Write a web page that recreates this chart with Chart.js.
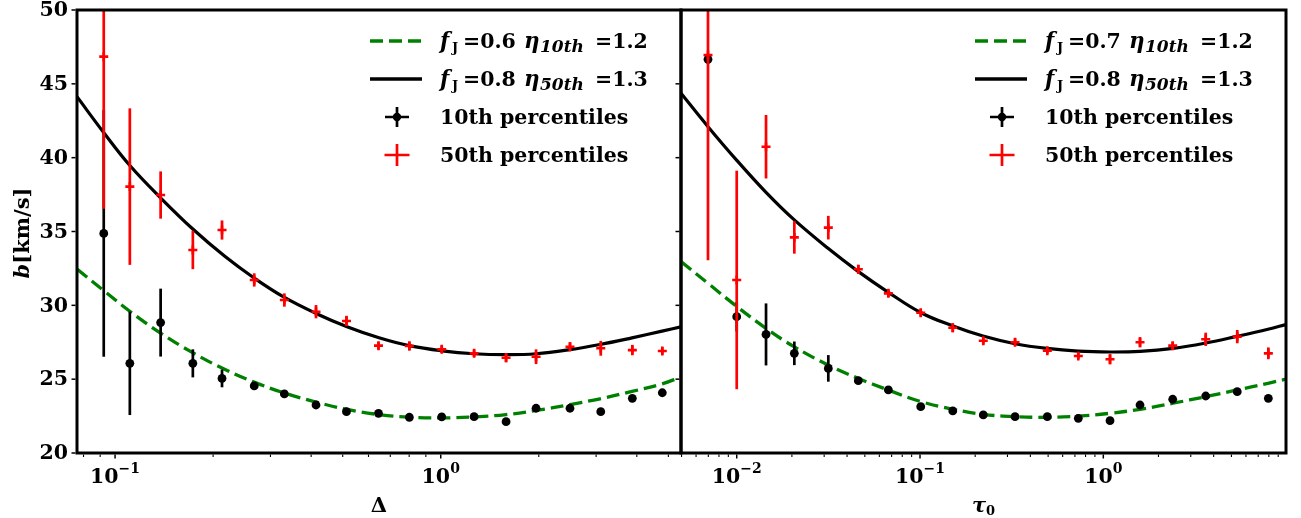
<!DOCTYPE html>
<html><head><meta charset="utf-8">
<script src="https://cdn.jsdelivr.net/npm/chart.js@4.4.1/dist/chart.umd.min.js"></script>
<style>
html,body{margin:0;padding:0;background:#fff;}
#wrap{position:relative;width:1301px;height:518px;overflow:hidden;background:#fff;}
#c1{position:absolute;left:0;top:0;}
#c2{position:absolute;left:660px;top:0;}
</style></head><body>
<div id="wrap"><canvas id="c1" width="690" height="518"></canvas><canvas id="c2" width="641" height="518"></canvas></div>
<script>
// ---------------- data: left panel (Delta) ----------------
const deltaBins   = [0.0923, 0.111, 0.138, 0.1733, 0.213, 0.2675, 0.331, 0.414, 0.5135, 0.644, 0.801, 1.007, 1.266, 1.587, 1.962, 2.494, 3.10, 3.875, 4.79];
const deltaB50    = [46.84, 38.04, 37.47, 33.75, 35.1, 31.72, 30.36, 29.57, 28.94, 27.27, 27.25, 27.02, 26.75, 26.45, 26.52, 27.2, 27.09, 26.97, 26.91];
const deltaB50Err = [10.3, 5.3, 1.6, 1.3, 0.65, 0.45, 0.45, 0.45, 0.35, 0.25, 0.3, 0.25, 0.25, 0.3, 0.5, 0.3, 0.5, 0.35, 0.25];
const deltaB10    = [34.87, 26.07, 28.83, 26.07, 25.05, 24.54, 24.0, 23.25, 22.8, 22.69, 22.42, 22.44, 22.46, 22.12, 23.03, 23.03, 22.8, 23.7, 24.08];
const deltaB10Err = [8.35, 3.5, 2.3, 0.95, 0.6, 0.15, 0.15, 0.15, 0.15, 0.1, 0.1, 0.1, 0.1, 0.1, 0.15, 0.1, 0.1, 0.15, 0.15];
const deltaFitX   = [0.0764, 0.0925, 0.1112, 0.1384, 0.1736, 0.2177, 0.2672, 0.3302, 0.4141, 0.5157, 0.6464, 0.7993, 1.009, 1.265, 1.587, 1.962, 2.495, 3.084, 3.867, 4.781, 5.467];
const deltaFit50  = [44.13, 41.67, 39.45, 37.25, 35.15, 33.3, 31.85, 30.55, 29.45, 28.55, 27.8, 27.27, 26.92, 26.72, 26.66, 26.72, 27.0, 27.35, 27.8, 28.25, 28.55];
const deltaFit10  = [32.46, 30.98, 29.58, 28.1, 26.78, 25.65, 24.8, 24.07, 23.45, 22.95, 22.6, 22.43, 22.38, 22.44, 22.6, 22.88, 23.28, 23.67, 24.17, 24.68, 25.15];

// ---------------- data: right panel (tau_0) ----------------
const tauBins   = [0.006971, 0.01, 0.01445, 0.02062, 0.0316, 0.04606, 0.0672, 0.1009, 0.1509, 0.2214, 0.33, 0.495, 0.7305, 1.088, 1.586, 2.391, 3.62, 5.38, 7.95];
const tauB50    = [46.95, 31.72, 40.74, 34.6, 35.26, 32.44, 30.81, 29.5, 28.48, 27.6, 27.5, 26.93, 26.57, 26.35, 27.5, 27.27, 27.7, 27.88, 26.75];
const tauB50Err = [13.9, 7.4, 2.15, 1.1, 0.8, 0.3, 0.25, 0.25, 0.3, 0.25, 0.25, 0.2, 0.2, 0.35, 0.35, 0.25, 0.45, 0.45, 0.4];
const tauB10    = [46.66, 29.23, 28.03, 26.75, 25.73, 24.9, 24.27, 23.14, 22.85, 22.58, 22.46, 22.46, 22.35, 22.19, 23.25, 23.64, 23.86, 24.15, 23.7];
const tauB10Err = [0.3, 1.0, 2.1, 0.8, 0.9, 0.15, 0.15, 0.2, 0.15, 0.1, 0.1, 0.1, 0.1, 0.1, 0.1, 0.1, 0.1, 0.1, 0.15];
const tauFitX   = [0.004966, 0.006971, 0.01004, 0.01445, 0.02054, 0.03148, 0.0459, 0.06689, 0.1013, 0.1514, 0.2207, 0.3299, 0.4931, 0.7278, 1.088, 1.586, 2.4, 3.634, 5.362, 7.914, 9.925];
const tauFit50  = [44.36, 42.1, 39.8, 37.65, 35.8, 33.86, 32.3, 30.9, 29.5, 28.6, 27.92, 27.4, 27.08, 26.9, 26.84, 26.88, 27.08, 27.45, 27.9, 28.38, 28.7];
const tauFit10  = [32.96, 31.49, 29.91, 28.44, 27.2, 25.96, 25.06, 24.27, 23.48, 22.96, 22.62, 22.46, 22.42, 22.5, 22.69, 22.96, 23.37, 23.82, 24.27, 24.72, 25.0];

// ---------------- axes / labels ----------------
const yTicks = [20, 25, 30, 35, 40, 45, 50];
const deltaDecades = [-1, 0];
const tauDecades = [-2, -1, 0];
const leftFJ10 = '0.6', leftEta10 = '1.2', leftFJ50 = '0.8', leftEta50 = '1.3';
const rightFJ10 = '0.7', rightEta10 = '1.2', rightFJ50 = '0.8', rightEta50 = '1.3';
const label10 = '10th percentiles', label50 = '50th percentiles';

const SERIF = '"DejaVu Serif", serif';
const F = (style, size) => style + ' ' + size + 'px ' + SERIF;

function pts(xs, ys) { return xs.map((x, i) => ({x: x, y: ys[i]})); }

function richWidth(ctx, pieces) {
  let w = 0;
  pieces.forEach(p => { ctx.font = p.font; w += ctx.measureText(p.t).width; });
  return w;
}
function drawRich(ctx, x, y, pieces) {
  pieces.forEach(p => {
    ctx.font = p.font;
    const px = (p.at !== undefined) ? p.at : x;
    ctx.fillText(p.t, px, y + (p.dy || 0));
    x = px + ctx.measureText(p.t).width;
  });
}
function minusSup(n) { return n < 0 ? '\u2212' + (-n) : String(n); }

function makePlugin(cfg) {
  return {
    id: 'panel' + cfg.key,
    beforeDatasetDraw(chart, args) {
      const ds = chart.data.datasets[args.index];
      if (!ds.errors) return;
      const ctx = chart.ctx, a = chart.chartArea, xs = chart.scales.x, ys = chart.scales.y;
      ctx.save();
      ctx.beginPath(); ctx.rect(a.left, a.top, a.right - a.left, a.bottom - a.top); ctx.clip();
      ctx.strokeStyle = ds.errColor; ctx.lineWidth = 2.7; ctx.lineCap = 'butt';
      ds.data.forEach((p, i) => {
        const e = ds.errors[i];
        const px = xs.getPixelForValue(p.x);
        ctx.beginPath();
        ctx.moveTo(px, ys.getPixelForValue(p.y - e));
        ctx.lineTo(px, ys.getPixelForValue(p.y + e));
        ctx.stroke();
      });
      ctx.restore();
    },
    afterDraw(chart) {
      const ctx = chart.ctx, a = chart.chartArea, xs = chart.scales.x, ys = chart.scales.y;
      ctx.save();
      ctx.fillStyle = '#000'; ctx.strokeStyle = '#000';
      // frame
      ctx.lineWidth = 3;
      ctx.strokeRect(a.left, a.top, a.right - a.left, a.bottom - a.top);
      // y ticks
      ctx.lineWidth = 1.5;
      yTicks.forEach(v => {
        const py = ys.getPixelForValue(v);
        ctx.beginPath(); ctx.moveTo(a.left - 5.5, py); ctx.lineTo(a.left - 1.5, py); ctx.stroke();
        if (cfg.yLabels) {
          ctx.font = F('bold', 20.5); ctx.textAlign = 'right'; ctx.textBaseline = 'middle';
          ctx.fillText(String(v), a.left - 9, py + 1);
        }
      });
      // x ticks (log)
      ctx.textAlign = 'left'; ctx.textBaseline = 'alphabetic';
      const lo = Math.floor(Math.log10(xs.min)), hi = Math.ceil(Math.log10(xs.max));
      for (let d = lo; d <= hi; d++) {
        for (let k = 1; k <= 9; k++) {
          const v = k * Math.pow(10, d);
          if (v < xs.min || v > xs.max) continue;
          const px = xs.getPixelForValue(v);
          const major = k === 1;
          ctx.lineWidth = major ? 1.5 : 1.1;
          ctx.beginPath(); ctx.moveTo(px, a.bottom + 1.5); ctx.lineTo(px, a.bottom + (major ? 5.5 : 4)); ctx.stroke();
        }
      }
      cfg.decades.forEach(d => {
        const px = xs.getPixelForValue(Math.pow(10, d));
        const pieces = [{t: '10', font: F('bold', 20.5)}, {t: minusSup(d), font: F('bold', 14), dy: -10}];
        const w = richWidth(ctx, pieces);
        drawRich(ctx, px - w / 2, 482.5, pieces);
      });
      // x title
      const cx = (a.left + a.right) / 2;
      const tp = cfg.xTitle;
      const tw = richWidth(ctx, tp);
      drawRich(ctx, cx - tw / 2, 511.5, tp);
      // y title
      if (cfg.yTitle) {
        ctx.save();
        ctx.translate(29, 233);
        ctx.rotate(-Math.PI / 2);
        const yp = [{t: 'b', font: F('italic bold', 21)}, {t: '[km/s]', font: F('bold', 21)}];
        const yw = richWidth(ctx, yp);
        drawRich(ctx, -yw / 2, 0, yp);
        ctx.restore();
      }
      // legend
      const lx0 = a.right - 311, lx1 = a.right - 259, tx = a.right - 241, mx = a.right - 284;
      const rows = [41, 79, 117, 155];
      ctx.save();
      ctx.strokeStyle = '#008000'; ctx.lineWidth = 3.3; ctx.setLineDash([13, 6]);
      ctx.beginPath(); ctx.moveTo(lx0, rows[0]); ctx.lineTo(lx1, rows[0]); ctx.stroke();
      ctx.restore();
      ctx.lineWidth = 3.3; ctx.strokeStyle = '#000';
      ctx.beginPath(); ctx.moveTo(lx0, rows[1]); ctx.lineTo(lx1, rows[1]); ctx.stroke();
      ctx.lineWidth = 2.7;
      ctx.beginPath(); ctx.moveTo(mx, rows[2] - 10); ctx.lineTo(mx, rows[2] + 10);
      ctx.moveTo(mx - 12, rows[2]); ctx.lineTo(mx + 12, rows[2]); ctx.stroke();
      ctx.beginPath(); ctx.arc(mx, rows[2], 4.2, 0, Math.PI * 2); ctx.fill();
      ctx.strokeStyle = '#ff0000';
      ctx.beginPath(); ctx.moveTo(mx, rows[3] - 11); ctx.lineTo(mx, rows[3] + 11);
      ctx.moveTo(mx - 12.5, rows[3]); ctx.lineTo(mx + 12.5, rows[3]); ctx.stroke();
      ctx.fillStyle = '#000';
      const big = F('bold', 20.5), bigI = F('italic bold', 21.5), sub = F('bold', 13), subI = F('italic bold', 17);
      const fitRow = (fj, name, eta) => [
        {t: 'f', font: bigI, at: tx}, {t: 'J', font: sub, dy: 4, at: tx + 12},
        {t: '=' + fj, font: big, at: tx + 23},
        {t: '\u03B7', font: bigI, at: tx + 84}, {t: name, font: subI, dy: 4, at: tx + 100},
        {t: '=' + eta, font: big, at: tx + 155}];
      drawRich(ctx, tx, rows[0] + 7, fitRow(cfg.fj10, '10th', cfg.eta10));
      drawRich(ctx, tx, rows[1] + 7, fitRow(cfg.fj50, '50th', cfg.eta50));
      drawRich(ctx, tx, rows[2] + 7, [{t: label10, font: big}]);
      drawRich(ctx, tx, rows[3] + 7, [{t: label50, font: big}]);
      ctx.restore();
    }
  };
}

function makeChart(canvasId, c) {
  return new Chart(document.getElementById(canvasId), {
    type: 'scatter',
    data: {
      datasets: [
        {data: pts(c.fitX, c.fit10), showLine: true, pointRadius: 0, borderColor: '#008000', borderWidth: 3.3,
         borderDash: [13, 6], tension: 0.4, order: 4},
        {data: pts(c.fitX, c.fit50), showLine: true, pointRadius: 0, borderColor: '#000000', borderWidth: 3.2,
         tension: 0.4, order: 3},
        {data: pts(c.bins, c.b10), errors: c.b10Err, errColor: '#000000', pointStyle: 'circle', pointRadius: 4.4,
         backgroundColor: '#000000', borderWidth: 0, order: 2},
        {data: pts(c.bins, c.b50), errors: c.b50Err, errColor: '#ff0000', pointStyle: 'cross', pointRadius: 4.5,
         borderColor: '#ff0000', borderWidth: 2.6, order: 1}
      ]
    },
    options: {
      responsive: false, animation: false, events: [],
      layout: {padding: c.padding},
      plugins: {legend: {display: false}, tooltip: {enabled: false}},
      scales: {
        x: {type: 'logarithmic', min: c.xmin, max: c.xmax, display: true,
            grid: {display: false}, border: {display: false}, ticks: {display: false},
            afterFit: s => { s.height = 65; }},
        y: {type: 'linear', min: 20, max: 50, display: true,
            grid: {display: false}, border: {display: false}, ticks: {display: false},
            afterFit: s => { s.width = c.yWidth; }}
      }
    },
    plugins: [makePlugin(c.plugin)]
  });
}

makeChart('c1', {
  bins: deltaBins, b50: deltaB50, b50Err: deltaB50Err, b10: deltaB10, b10Err: deltaB10Err,
  fitX: deltaFitX, fit50: deltaFit50, fit10: deltaFit10,
  xmin: 0.0764, xmax: 5.467, yWidth: 77, padding: {left: 0, right: 9, top: 10, bottom: 0},
  plugin: {key: 'L', yLabels: true, yTitle: true, decades: deltaDecades,
           xTitle: [{t: '\u0394', font: F('bold', 21)}],
           fj10: leftFJ10, eta10: leftEta10, fj50: leftFJ50, eta50: leftEta50}
});
makeChart('c2', {
  bins: tauBins, b50: tauB50, b50Err: tauB50Err, b10: tauB10, b10Err: tauB10Err,
  fitX: tauFitX, fit50: tauFit50, fit10: tauFit10,
  xmin: 0.004966, xmax: 9.925, yWidth: 21, padding: {left: 0, right: 15, top: 10, bottom: 0},
  plugin: {key: 'R', yLabels: false, yTitle: false, decades: tauDecades,
           xTitle: [{t: '\u03C4', font: F('italic bold', 21)}, {t: '0', font: F('bold', 13), dy: 3}],
           fj10: rightFJ10, eta10: rightEta10, fj50: rightFJ50, eta50: rightEta50}
});
</script>
</body></html>
